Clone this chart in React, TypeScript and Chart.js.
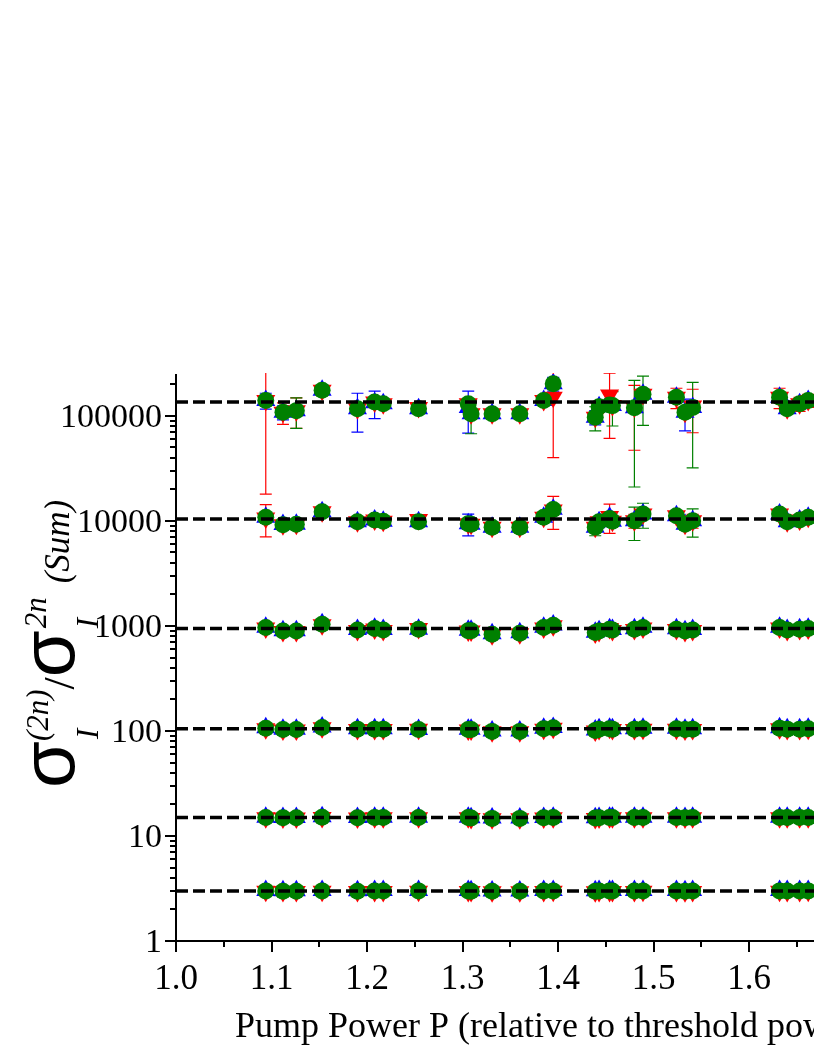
import React, { useEffect, useRef } from 'react';
import { Chart, registerables } from 'chart.js';
Chart.register(...registerables);

// ---------- data ----------
const pumpPower = [1.094, 1.112, 1.126, 1.153, 1.190, 1.208, 1.217, 1.254, 1.306, 1.309, 1.331, 1.360, 1.385, 1.395, 1.439, 1.443, 1.454, 1.457, 1.480, 1.489, 1.524, 1.533, 1.541, 1.632, 1.640, 1.653, 1.662];
const theory = [3, 15, 105, 945, 10395, 135135];
const xTickValues = [1.0, 1.1, 1.2, 1.3, 1.4, 1.5, 1.6, 1.7, 1.8];
const yTickValues = [1, 10, 100, 1000, 10000, 100000];

const green1 = [3.0, 2.98, 2.98, 3.0, 2.98, 2.99, 2.99, 3.0, 2.99, 2.98, 2.97, 2.97, 2.99, 3.0, 2.98, 2.99, 3.0, 2.99, 2.99, 3.0, 2.99, 2.98, 2.99, 3.0, 2.99, 2.99, 3.0];
const red1 = [2.97, 2.96, 2.96, 2.97, 2.96, 2.96, 2.96, 2.97, 2.96, 2.96, 2.95, 2.95, 2.96, 2.97, 2.95, 2.96, 2.96, 2.96, 2.96, 2.97, 2.96, 2.95, 2.96, 2.97, 2.96, 2.96, 2.97];
const blue1 = [3.02, 3.01, 3.01, 3.03, 3.01, 3.02, 3.02, 3.02, 3.02, 3.01, 3.0, 3.0, 3.02, 3.03, 3.01, 3.02, 3.02, 3.02, 3.02, 3.03, 3.02, 3.01, 3.02, 3.03, 3.02, 3.02, 3.02];

const green2 = [15.0, 14.9, 14.9, 15.1, 14.9, 15.0, 15.0, 15.0, 15.0, 14.8, 14.7, 14.7, 14.9, 15.0, 14.8, 14.9, 15.0, 15.0, 15.0, 15.0, 15.0, 14.9, 15.0, 15.0, 15.0, 15.0, 15.0];
const red2 = [14.9, 14.8, 14.8, 15.0, 14.8, 14.9, 14.9, 14.9, 14.9, 14.7, 14.6, 14.6, 14.8, 14.9, 14.7, 14.8, 14.9, 14.9, 14.9, 14.9, 14.9, 14.8, 14.9, 14.9, 14.9, 14.9, 14.9];
const blue2 = [15.1, 15.0, 15.0, 15.2, 15.0, 15.1, 15.1, 15.1, 15.1, 14.9, 14.8, 14.8, 15.0, 15.1, 14.9, 15.0, 15.1, 15.1, 15.1, 15.1, 15.1, 15.0, 15.1, 15.1, 15.1, 15.1, 15.1];

const green3 = [106, 103, 103, 108, 104, 104, 104, 103, 103, 103, 99, 99, 105, 107, 101, 104, 105, 104, 104, 105, 105, 103, 104, 106, 104, 104, 105];
const red3 = [105, 102, 102, 107, 103, 103, 103, 104, 102, 102, 98, 98, 104, 106, 100, 103, 106, 103, 103, 104, 104, 102, 103, 105, 103, 103, 104];
const blue3 = [107, 104, 104, 109, 105, 105, 105, 103, 104, 104, 100, 100, 106, 108, 102, 105, 106, 105, 105, 106, 106, 104, 105, 107, 105, 105, 106];

const green4 = [964, 893, 893, 1036, 914, 943, 914, 930, 900, 900, 832, 850, 964, 1014, 863, 893, 930, 914, 930, 964, 930, 893, 914, 964, 914, 930, 943];
const red4 = [955, 885, 885, 1025, 905, 935, 905, 945, 892, 892, 825, 842, 955, 1005, 855, 885, 945, 905, 922, 955, 922, 885, 905, 955, 905, 922, 935];
const blue4 = [972, 900, 900, 1045, 922, 950, 922, 930, 908, 908, 840, 858, 972, 1022, 870, 900, 938, 922, 938, 972, 938, 900, 922, 972, 922, 938, 950];

const green5 = [10800, 9180, 9300, 12200, 9800, 10200, 9900, 9800, 9400, 9300, 8670, 8670, 10800, 12800, 8670, 9800, 10500, 9900, 10000, 11600, 11200, 9300, 10000, 11600, 9800, 10200, 10800];
const red5 = [10650, 9180, 9300, 12200, 9800, 10200, 9900, 10300, 9400, 9300, 8670, 8670, 10800, 12700, 8670, 9800, 11000, 9900, 10000, 11600, 11200, 9300, 10000, 11600, 9800, 10200, 10800];
const blue5 = [10800, 9250, 9300, 12200, 9800, 10200, 9900, 9800, 9400, 9300, 8670, 8670, 10800, 12900, 8670, 9800, 10800, 9900, 10000, 11600, 11200, 9300, 10000, 11600, 9800, 10200, 10800];

const green6 = [140000, 108000, 112000, 175000, 117000, 135000, 130000, 117000, 130000, 104500, 104500, 104500, 140000, 202000, 97000, 122000, 127000, 125000, 119000, 160000, 150000, 108000, 120000, 150000, 117000, 130000, 140000];
const red6 = [140000, 108000, 112000, 175000, 117000, 135000, 130000, 120000, 130000, 104500, 104500, 104500, 140000, 150000, 97000, 122000, 158000, 125000, 121000, 160000, 150000, 108000, 124000, 150000, 117000, 130000, 140000];
const blue6 = [140000, 108000, 112000, 175000, 117000, 133000, 130000, 117000, 120000, 104500, 104500, 104500, 140000, 202000, 97000, 122000, 140000, 125000, 119000, 160000, 150000, 108000, 120000, 150000, 117000, 130000, 140000];

// symmetric error half-widths (rows 5 and 6 only; lower rows smaller than the markers)
const greenErr5 = [0, 0, 900, 0, 0, 0, 0, 0, 0, 0, 0, 0, 0, 0, 1460, 0, 0, 1000, 3500, 3100, 0, 0, 3000, 0, 0, 0, 0];
const redErr5 = [3600, 700, 900, 0, 0, 600, 0, 0, 0, 0, 0, 0, 0, 4400, 0, 0, 3400, 0, 1500, 0, 0, 0, 1500, 0, 0, 0, 0];
const blueErr5 = [0, 0, 0, 0, 0, 1000, 0, 0, 2200, 0, 0, 0, 0, 0, 0, 1200, 0, 0, 0, 0, 0, 0, 0, 0, 0, 0, 0];
const greenErr6 = [0, 0, 36000, 0, 0, 0, 0, 0, 0, 37000, 0, 0, 0, 0, 25000, 0, 0, 45000, 98000, 79000, 0, 0, 88000, 0, 0, 0, 0];
const redErr6 = [122000, 25000, 36000, 0, 0, 0, 0, 0, 0, 0, 0, 0, 12000, 110000, 0, 0, 97000, 0, 74000, 0, 33000, 0, 55000, 33000, 0, 20000, 20000];
const blueErr6 = [24000, 16500, 0, 0, 47000, 39000, 0, 0, 51500, 0, 0, 0, 0, 30000, 15000, 0, 20000, 0, 0, 0, 0, 36000, 0, 0, 0, 15000, 0];

const X_TITLE = 'Pump Power P (relative to threshold power)';

// ---------- helpers ----------
function buildPoints(rows: number[][]) {
  const pts: { x: number; y: number }[] = [];
  rows.forEach((row) => row.forEach((v, i) => pts.push({ x: pumpPower[i], y: v })));
  return pts;
}
function buildErrors(rows: (number[] | null)[]) {
  const out: number[] = [];
  rows.forEach((row) => pumpPower.forEach((_, i) => out.push(row ? row[i] : 0)));
  return out;
}

const SERIF = "'Liberation Serif', 'Times New Roman', serif";

const errorBarPlugin = {
  id: 'errorBars',
  beforeDatasetsDraw(chart: any) {
    const { ctx, chartArea } = chart;
    const xs = chart.scales.x;
    const ys = chart.scales.y;
    ctx.save();
    ctx.beginPath();
    ctx.rect(chartArea.left, chartArea.top - 1, chartArea.right - chartArea.left, chartArea.bottom - chartArea.top + 1);
    ctx.clip();
    const idx = chart.data.datasets.map((d: any, i: number) => i).filter((i: number) => chart.data.datasets[i].errors);
    idx.sort((a: number, b: number) => chart.data.datasets[b].order - chart.data.datasets[a].order);
    idx.forEach((di: number) => {
      const ds = chart.data.datasets[di];
      ctx.strokeStyle = ds.errColor;
      ctx.lineWidth = 1.2;
      ds.data.forEach((p: any, j: number) => {
        const e = ds.errors[j];
        if (!e) return;
        const x = xs.getPixelForValue(p.x);
        const yHi = ys.getPixelForValue(p.y + e);
        const yLo = ys.getPixelForValue(Math.max(p.y - e, 1e-3));
        ctx.beginPath();
        ctx.moveTo(x, yHi);
        ctx.lineTo(x, yLo);
        ctx.moveTo(x - 6, yHi);
        ctx.lineTo(x + 6, yHi);
        ctx.moveTo(x - 6, yLo);
        ctx.lineTo(x + 6, yLo);
        ctx.stroke();
      });
    });
    ctx.restore();
  },
};

const axesPlugin = {
  id: 'originAxes',
  afterDraw(chart: any) {
    const { ctx, chartArea } = chart;
    const xs = chart.scales.x;
    const ys = chart.scales.y;
    const L = chartArea.left;
    const B = chartArea.bottom;
    ctx.save();
    ctx.strokeStyle = '#000';
    ctx.fillStyle = '#000';
    ctx.lineWidth = 2;
    // axis lines
    ctx.beginPath();
    ctx.moveTo(L, chartArea.top);
    ctx.lineTo(L, B + 1);
    ctx.moveTo(L - 1, B);
    ctx.lineTo(chartArea.right, B);
    ctx.stroke();
    // x ticks
    for (let k = 0; k <= 16; k++) {
      const v = xs.min + k * 0.05;
      const px = Math.round(xs.getPixelForValue(v));
      const len = k % 2 === 0 ? 11 : 6;
      ctx.beginPath();
      ctx.moveTo(px, B);
      ctx.lineTo(px, B + len);
      ctx.stroke();
    }
    // y ticks (major + minor)
    yTickValues.forEach((dec) => {
      for (let m = 1; m <= 9; m++) {
        const v = dec * m;
        if (v > ys.max) break;
        const py = Math.round(ys.getPixelForValue(v));
        const len = m === 1 ? 11 : 6;
        ctx.beginPath();
        ctx.moveTo(L, py);
        ctx.lineTo(L - len, py);
        ctx.stroke();
      }
    });
    // tick labels
    ctx.font = `34px ${SERIF}`;
    ctx.textAlign = 'right';
    ctx.textBaseline = 'middle';
    yTickValues.forEach((v) => {
      ctx.fillText(String(v), L - 14, ys.getPixelForValue(v) + 2);
    });
    ctx.font = `35px ${SERIF}`;
    ctx.textAlign = 'center';
    ctx.textBaseline = 'alphabetic';
    xTickValues.forEach((v) => {
      ctx.fillText(v.toFixed(1), xs.getPixelForValue(v), B + 48);
    });
    // x title
    ctx.font = `36px ${SERIF}`;
    ctx.textAlign = 'left';
    ctx.fillText(X_TITLE, 235, B + 96);
    // y title (rich text, rotated)
    ctx.translate(74, 788);
    ctx.rotate(-Math.PI / 2);
    ctx.textAlign = 'left';
    ctx.textBaseline = 'alphabetic';
    const big = "76px 'Liberation Sans', 'DejaVu Sans', sans-serif";
    const small = `italic 31px ${SERIF}`;
    let x = 0;
    ctx.font = big;
    ctx.fillText('σ', x, 0);
    x += ctx.measureText('σ').width;
    ctx.font = small;
    ctx.fillText('I', x + 2, 24);
    const wI = ctx.measureText('I').width + 2;
    ctx.fillText('(2n)', x, -26);
    const w2n = ctx.measureText('(2n)').width;
    x += Math.max(wI, w2n);
    ctx.font = `44px ${SERIF}`;
    ctx.fillText('/', x, 0);
    x += ctx.measureText('/').width;
    ctx.font = big;
    ctx.fillText('σ', x, 0);
    x += ctx.measureText('σ').width;
    ctx.font = small;
    ctx.fillText('I', x + 2, 24);
    ctx.fillText('2n', x + 2, -28);
    x += Math.max(ctx.measureText('I').width + 2, ctx.measureText('2n').width + 2) + 14;
    ctx.font = `italic 35px ${SERIF}`;
    ctx.fillText('(Sum)', x, -5);
    ctx.restore();
  },
};

export default function App() {
  const ref = useRef<HTMLCanvasElement | null>(null);
  useEffect(() => {
    if (!ref.current) return;
    const lineSets = theory.map((v) => ({
      type: 'line' as const,
      data: [{ x: 1.0, y: v }, { x: 1.8, y: v }],
      borderColor: '#000',
      borderWidth: 3.5,
      borderDash: [12, 5],
      pointRadius: 0,
      fill: false,
      order: 0,
    }));
    const green = {
      type: 'scatter' as const,
      data: buildPoints([green1, green2, green3, green4, green5, green6]),
      errors: buildErrors([null, null, null, null, greenErr5, greenErr6]),
      errColor: '#008000',
      pointStyle: 'circle',
      pointRadius: 8.5,
      backgroundColor: '#008000',
      borderColor: '#008000',
      borderWidth: 0,
      order: 1,
    };
    const red = {
      type: 'scatter' as const,
      data: buildPoints([red1, red2, red3, red4, red5, red6]),
      errors: buildErrors([null, null, null, null, redErr5, redErr6]),
      errColor: '#ff0000',
      pointStyle: 'triangle',
      rotation: 180,
      pointRadius: 11,
      backgroundColor: '#ff0000',
      borderColor: '#ff0000',
      borderWidth: 0,
      order: 2,
    };
    const blue = {
      type: 'scatter' as const,
      data: buildPoints([blue1, blue2, blue3, blue4, blue5, blue6]),
      errors: buildErrors([null, null, null, null, blueErr5, blueErr6]),
      errColor: '#0000ff',
      pointStyle: 'triangle',
      pointRadius: 11,
      backgroundColor: '#0000ff',
      borderColor: '#0000ff',
      borderWidth: 0,
      order: 3,
    };
    const chart = new Chart(ref.current, {
      type: 'scatter',
      data: { datasets: [...lineSets, green, red, blue] as any },
      options: {
        animation: false,
        responsive: false,
        maintainAspectRatio: false,
        layout: { padding: { top: 374, right: 40, left: 0, bottom: 0 } },
        plugins: { legend: { display: false }, tooltip: { enabled: false }, title: { display: false } },
        scales: {
          x: {
            type: 'linear',
            min: 1.0,
            max: 1.8,
            grid: { display: false },
            border: { display: false },
            ticks: { display: false },
            afterFit: (s: any) => { s.height = 112; },
          },
          y: {
            type: 'logarithmic',
            min: 1,
            max: 250000,
            grid: { display: false },
            border: { display: false },
            ticks: { display: false },
            afterFit: (s: any) => { s.width = 176; },
          },
        },
      } as any,
      plugins: [errorBarPlugin, axesPlugin],
    });
    return () => chart.destroy();
  }, []);
  return (
    <div style={{ position: 'fixed', left: 0, top: 0, width: 814, height: 1053, overflow: 'hidden', background: '#fff' }}>
      <canvas ref={ref} width={980} height={1053} style={{ display: 'block', width: 980, height: 1053 }} />
    </div>
  );
}
